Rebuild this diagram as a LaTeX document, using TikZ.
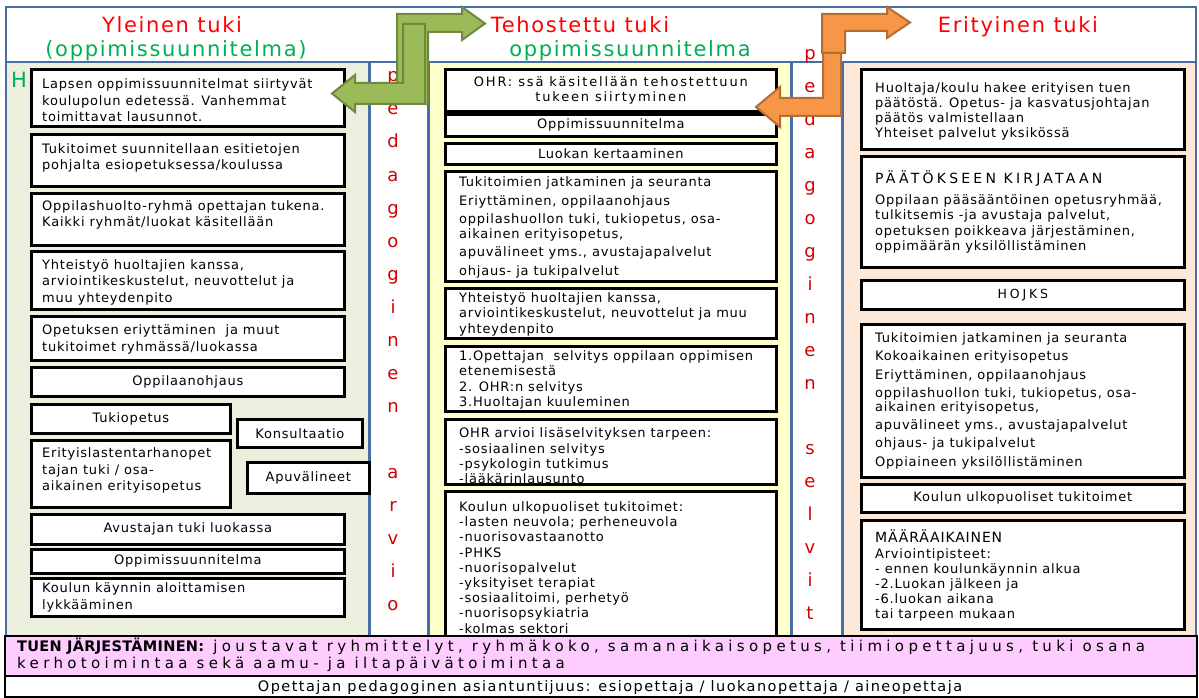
\documentclass[tikz,border=0pt]{standalone}
\usepackage{fontspec}
\setmainfont{DejaVu Sans}
\newfontfamily\bodyf[LetterSpace=6]{DejaVu Sans}
\newfontfamily\spacedf[LetterSpace=14]{DejaVu Sans}
\newfontfamily\headf[LetterSpace=8]{DejaVu Sans}
\newfontfamily\pinkf[LetterSpace=29]{DejaVu Sans}
\newfontfamily\pinkbold[LetterSpace=2]{DejaVu Sans Bold}
\newfontfamily\footf[LetterSpace=10]{DejaVu Sans}
\newfontfamily\capsf[LetterSpace=23]{DejaVu Sans}
\newfontfamily\capsg[LetterSpace=6]{DejaVu Sans}
\definecolor{colA}{RGB}{235,240,222}
\definecolor{colB}{RGB}{255,255,204}
\definecolor{colC}{RGB}{253,233,217}
\definecolor{pinkband}{RGB}{255,204,255}
\definecolor{frameblue}{RGB}{70,110,165}
\definecolor{hdred}{RGB}{255,0,0}
\definecolor{hdgreen}{RGB}{0,176,80}
\definecolor{letred}{RGB}{210,0,0}
\definecolor{grfill}{RGB}{155,187,89}
\definecolor{grline}{RGB}{113,137,63}
\definecolor{orfill}{RGB}{247,150,70}
\definecolor{orline}{RGB}{182,109,49}
\begin{document}
\begin{tikzpicture}[x=1pt,y=-1pt,
  box/.style={draw=black,line width=2.7pt,fill=white,inner sep=0pt,anchor=north west},
  tl/.style={font=\bodyf\fontsize{13}{16.5}\selectfont,align=left,anchor=west,inner sep=0pt},
  tm/.style={font=\bodyf\fontsize{13}{15.2}\selectfont,align=left,anchor=west,inner sep=0pt},
  tp/.style={font=\bodyf\fontsize{13}{14.6}\selectfont,align=left,anchor=west,inner sep=0pt},
  cb/.style={font=\bodyf\fontsize{13}{15}\selectfont,align=center},
  hd/.style={font=\headf\fontsize{21}{21}\selectfont,inner sep=0pt},
  letter/.style={font=\fontsize{18}{18}\selectfont,text=letred,anchor=base,inner sep=0pt},
  colfr/.style={draw=frameblue,line width=1.5pt},
  pinkt/.style={font=\pinkf\fontsize{15}{17}\selectfont,inner sep=0pt,anchor=base west},
  foot/.style={font=\footf\fontsize{14.5}{17}\selectfont,inner sep=0pt,anchor=base},
  grarrow/.style={fill=grfill,draw=grline,line width=2pt,line join=miter},
  orarrow/.style={fill=orfill,draw=orline,line width=2pt,line join=miter}]
\useasboundingbox (0,0) rectangle (1199,698);
\fill[white] (0,0) rectangle (1199,698);
% header and columns
\filldraw[colfr,fill=white] (6,7) rectangle (1196,62);
\filldraw[colfr,fill=colA] (6,62) rectangle (369,636);
\filldraw[colfr,fill=white] (370,62) rectangle (428,636);
\filldraw[colfr,fill=colB] (429,62) rectangle (791,636);
\filldraw[colfr,fill=white] (792,62) rectangle (842,636);
\filldraw[colfr,fill=colC] (843,62) rectangle (1196,636);
% header texts
\node[hd,text=hdgreen,anchor=base west] (hh) at (11,88) {H};
\node[hd,text=hdred,anchor=base] (h1) at (172,33) {Yleinen tuki};
\node[hd,text=hdgreen,anchor=base] (g1) at (176,57) {(oppimissuunnitelma)};
\node[hd,text=hdred,anchor=base] (h2) at (580,33) {Tehostettu tuki};
\node[hd,text=hdgreen,anchor=base] (g2) at (630,57) {oppimissuunnitelma};
\node[hd,text=hdred,anchor=base] (h3) at (1018,33) {Erityinen tuki};
% vertical letters
\foreach \ch/\k in {p/0,e/1,d/2,a/3,g/4,o/5,g/6,i/7,n/8,e/9,n/10,a/12,r/13,v/14,i/15,o/16}
  \node[letter] (ar\k) at (393,{82+\k*33}) {\ch};
\foreach \ch/\k in {p/0,e/1,d/2,a/3,g/4,o/5,g/6,i/7,n/8,e/9,n/10,s/12,e/13,l/14,v/15,i/16,t/17}
  \node[letter] (se\k) at (810,{60+\k*32.9}) {\ch};
% left column
\node[box,minimum width=313,minimum height=57] (L1) at (30,68) {};
\node[tl] (L1t) at ([xshift=12pt,yshift=-2.5pt]L1.west) {Lapsen oppimissuunnitelmat siirtyvät\\koulupolun edetessä. Vanhemmat\\toimittavat lausunnot.};
\node[box,minimum width=313,minimum height=52] (L2) at (30,133) {};
\node[tl] (L2t) at ([xshift=12pt,yshift=2.5pt]L2.west) {Tukitoimet suunnitellaan esitietojen\\pohjalta esiopetuksessa/koulussa};
\node[box,minimum width=313,minimum height=52] (L3) at (30,192) {};
\node[tl] (L3t) at ([xshift=12pt,yshift=4.5pt]L3.west) {Oppilashuolto-ryhmä opettajan tukena.\\Kaikki ryhmät/luokat käsitellään};
\node[box,minimum width=313,minimum height=58] (L4) at (30,250) {};
\node[tl] (L4t) at ([xshift=12pt,yshift=-2pt]L4.west) {Yhteistyö huoltajien kanssa,\\arviointikeskustelut, neuvottelut ja\\muu yhteydenpito};
\node[box,minimum width=313,minimum height=44] (L5) at (30,315) {};
\node[tl] (L5t) at ([xshift=12pt,yshift=-1pt]L5.west) {Opetuksen eriyttäminen\ \ ja muut\\tukitoimet ryhmässä/luokassa};
\node[box,cb,minimum width=313,minimum height=29] (L6) at (30,366) {Oppilaanohjaus};
\node[box,cb,minimum width=199,minimum height=29] (L7) at (30,403) {Tukiopetus};
\node[box,cb,minimum width=125,minimum height=28] (L8) at (236,418) {Konsultaatio};
\node[box,minimum width=199,minimum height=67] (L9) at (30,439) {};
\node[tl] (L9t) at ([xshift=12pt,yshift=3pt]L9.west) {Erityislastentarhanopet\\tajan tuki / osa-\\aikainen erityisopetus};
\node[box,cb,minimum width=122,minimum height=31] (L10) at (246,461) {Apuvälineet};
\node[box,cb,minimum width=313,minimum height=30] (L11) at (30,513) {Avustajan tuki luokassa};
\node[box,cb,minimum width=313,minimum height=24] (L12) at (30,548) {\raisebox{-3pt}{Oppimissuunnitelma}};
\node[box,minimum width=313,minimum height=38] (L13) at (30,577) {};
\node[tl] (L13t) at ([xshift=12pt]L13.west) {Koulun käynnin aloittamisen\\lykkääminen};
% middle column
\node[box,cb,font=\spacedf\fontsize{13}{15}\selectfont,minimum width=331,minimum height=42] (C1) at (444,68) {OHR: ssä käsitellään tehostettuun\\tukeen siirtyminen};
\node[box,cb,minimum width=331,minimum height=22] (C2) at (444,113) {\raisebox{-3pt}{Oppimissuunnitelma}};
\node[box,cb,minimum width=331,minimum height=21] (C3) at (444,142) {\raisebox{-3pt}{Luokan kertaaminen}};
\node[box,minimum width=331,minimum height=110] (C4) at (444,170) {};
\node[tp] (C4t) at ([xshift=15pt,yshift=-1pt]C4.west) {Tukitoimien jatkaminen ja seuranta\\[4pt]Eriyttäminen, oppilaanohjaus\\[4pt]oppilashuollon tuki, tukiopetus, osa-\\aikainen erityisopetus,\\[4pt]apuvälineet yms., avustajapalvelut\\[4pt]ohjaus- ja tukipalvelut};
\node[box,minimum width=331,minimum height=50] (C5) at (444,287) {};
\node[tm] (C5t) at ([xshift=15pt,yshift=-1pt]C5.west) {Yhteistyö huoltajien kanssa,\\arviointikeskustelut, neuvottelut ja muu\\yhteydenpito};
\node[box,minimum width=331,minimum height=65] (C6) at (444,345) {};
\node[tm] (C6t) at ([xshift=15pt,yshift=-1pt]C6.west) {1.Opettajan\ \ selvitys oppilaan oppimisen\\etenemisestä\\2. OHR:n selvitys\\3.Huoltajan kuuleminen};
\node[box,minimum width=331,minimum height=65] (C7) at (444,418) {};
\node[tm] (C7t) at ([xshift=15pt,yshift=-4pt]C7.west) {OHR arvioi lisäselvityksen tarpeen:\\-sosiaalinen selvitys\\-psykologin tutkimus\\-lääkärinlausunto};
\node[box,minimum width=331,minimum height=152] (C8) at (444,490) {};
\node[tm] (C8t) at ([xshift=15pt]C8.west) {Koulun ulkopuoliset tukitoimet:\\-lasten neuvola; perheneuvola\\-nuorisovastaanotto\\-PHKS\\-nuorisopalvelut\\-yksityiset terapiat\\-sosiaalitoimi, perhetyö\\-nuorisopsykiatria\\-kolmas sektori};
% right column
\node[box,minimum width=323,minimum height=80] (R1) at (860,68) {};
\node[tm] (R1t) at ([xshift=15pt,yshift=-2pt]R1.west) {Huoltaja/koulu hakee erityisen tuen\\päätöstä. Opetus- ja kasvatusjohtajan\\päätös valmistellaan\\Yhteiset palvelut yksikössä};
\node[box,minimum width=323,minimum height=111] (R2) at (860,155) {};
\node[tm] (R2t) at ([xshift=15pt]R2.west) {{\capsf\fontsize{14}{15}\selectfont PÄÄTÖKSEEN KIRJATAAN}\\[6pt]Oppilaan pääsääntöinen opetusryhmää,\\tulkitsemis -ja avustaja palvelut,\\opetuksen poikkeava järjestäminen,\\oppimäärän yksilöllistäminen};
\node[box,minimum width=323,minimum height=29,font=\capsf\fontsize{12.5}{15}\selectfont] (R3) at (860,279) {HOJKS};
\node[box,minimum width=323,minimum height=153] (R4) at (860,323) {};
\node[tp] (R4t) at ([xshift=15pt]R4.west) {Tukitoimien jatkaminen ja seuranta\\[3.5pt]Kokoaikainen erityisopetus\\[3.5pt]Eriyttäminen, oppilaanohjaus\\[3.5pt]oppilashuollon tuki, tukiopetus, osa-\\aikainen erityisopetus,\\[3.5pt]apuvälineet yms., avustajapalvelut\\[3.5pt]ohjaus- ja tukipalvelut\\[3.5pt]Oppiaineen yksilöllistäminen};
\node[box,cb,minimum width=323,minimum height=28] (R5) at (860,483) {Koulun ulkopuoliset tukitoimet};
\node[box,minimum width=323,minimum height=109] (R6) at (860,519) {};
\node[tm] (R6t) at ([xshift=15pt,yshift=-1pt]R6.west) {{\capsg\fontsize{14}{15}\selectfont MÄÄRÄAIKAINEN}\\Arviointipisteet:\\- ennen koulunkäynnin alkua\\-2.Luokan jälkeen ja\\-6.luokan aikana\\tai tarpeen mukaan};
% arrows
\filldraw[grarrow] (397,104) -- (397,14) -- (462,14) -- (462,7) -- (485,23.5) -- (462,40) -- (462,32) -- (428,32) -- (428,104) -- cycle;
\filldraw[grarrow] (332,93.5) -- (355,75) -- (355,83) -- (403,83) -- (403,24) -- (425,24) -- (425,104) -- (355,104) -- (355,112) -- cycle;
\filldraw[orarrow] (822,53) -- (822,14) -- (887,14) -- (887,7) -- (910,22.5) -- (887,38) -- (887,31) -- (845,31) -- (845,53) -- cycle;
\filldraw[orarrow] (756,107) -- (780,87) -- (780,98) -- (823,98) -- (823,53) -- (841,53) -- (841,116) -- (780,116) -- (780,127) -- cycle;
% bottom bands
\filldraw[fill=pinkband,draw=black,line width=1.5pt] (5,636) rectangle (1197,676);
\filldraw[fill=white,draw=black,line width=1.5pt] (5,676) rectangle (1197,697);
\node[pinkt] (pk1) at (17,651) {{\pinkbold\fontsize{14.5}{17}\selectfont TUEN JÄRJESTÄMINEN:} joustavat ryhmittelyt, ryhmäkoko, samanaikaisopetus, tiimiopettajuus, tuki osana};
\node[pinkt] (pk2) at (17,668) {kerhotoimintaa sekä aamu- ja iltapäivätoimintaa};
\node[foot] (ft) at (610,691) {Opettajan pedagoginen asiantuntijuus: esiopettaja / luokanopettaja / aineopettaja};
\end{tikzpicture}
\end{document}
